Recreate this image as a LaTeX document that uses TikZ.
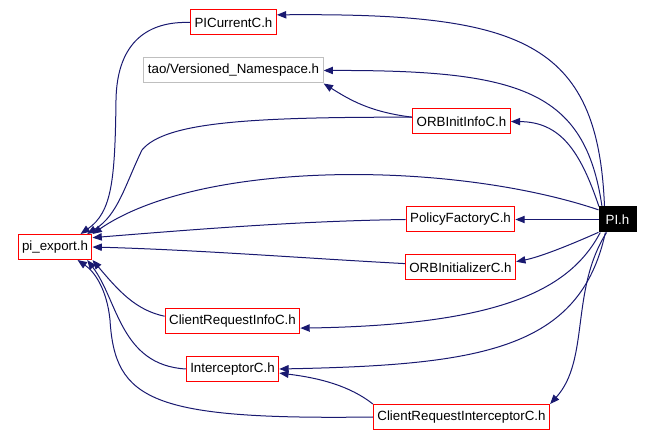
\documentclass[tikz,border=0pt]{standalone}
\usepackage{fontspec}
\setmainfont{Liberation Sans}
\usetikzlibrary{arrows.meta,backgrounds}
\definecolor{navyedge}{RGB}{25, 25, 112}
\definecolor{boxred}{RGB}{255, 0, 0}
\definecolor{boxgray}{RGB}{191, 191, 191}
\tikzset{
  hfile/.style={draw=boxred, line width=0.75pt, fill=white, inner xsep=3pt, inner ysep=0pt,
                minimum height=18.75pt, font=\fontsize{10}{12}\selectfont},
  extfile/.style={hfile, draw=boxgray},
  topfile/.style={hfile, draw=black, fill=black, text=white, minimum width=27.75pt},
  dep/.style={navyedge, line width=0.75pt, -{Triangle[length=7pt,width=5.5pt]}}
}

\begin{document}
\begin{tikzpicture}[x=0.75pt, y=-0.75pt]
            \useasboundingbox (0,0) rectangle (654,438);
            % headers
            \node[topfile] (pi)    at (617.5,219.5) {PI.h};
            \node[hfile]   (picur) at (233.5, 22.5) {PICurrentC.h};
            \node[extfile] (vn)    at (233.5, 70.5) {tao/Versioned\_Namespace.h};
            \node[hfile]   (oii)   at (461.5,121.5) {ORBInitInfoC.h};
            \node[hfile]   (pf)    at (460.5,219.5) {PolicyFactoryC.h};
            \node[hfile]   (ori)   at (460.5,267.5) {ORBInitializerC.h};
            \node[hfile]   (pe)    at ( 55.0,247.0) {pi\_export.h};
            \node[hfile]   (cri)   at (232.5,321.0) {ClientRequestInfoC.h};
            \node[hfile]   (ic)    at (232.5,369.0) {InterceptorC.h};
            \node[hfile]   (cric)  at (461.5,417.0) {ClientRequestInterceptorC.h};
            \begin{pgfonlayer}{background}
            % includes of PI.h
            \draw[dep] (pi.135) .. controls (598,40) and (520,13) .. (picur.10);
            \draw[dep] (pi.140) .. controls (585,90) and (520,70) .. (vn.east);
            \draw[dep] (pi.145) .. controls (580,150) and (560,122) .. (oii.east);
            \draw[dep] (pi.153) .. controls (450,160) and (200,160) .. (pe.north east);
            \draw[dep] (pi.west) -- (pf.east);
            \draw[dep] (pi.214) .. controls (570,245) and (540,257) .. (ori.6);
            \draw[dep] (pi.217) .. controls (570,290) and (500,325) .. (cri.-6);
            \draw[dep] (pi.227) .. controls (580,350) and (480,365) .. (ic.east);
            \draw[dep] (pi.230) .. controls (570,290) and (590,360) .. (cric.north east);
            % includes of the others
            \draw[dep] (oii.175) .. controls (370,112) and (350,100) .. (vn.south east);
            \draw[dep] (picur.west) .. controls (150,21) and (117,40) .. (116,100)
                 .. controls (115,180) and (112,212) .. (pe.27);
            \draw[dep] (oii.175) .. controls (250,117) and (165,122) .. (142,150)
                 .. controls (125,185) and (118,215) .. (pe.22);
            \draw[dep] (pf.west) .. controls (300,221) and (200,229) .. (pe.14);
            \draw[dep] (ori.176) .. controls (300,258) and (200,250) .. (pe.east);
            \draw[dep] (cri.176) .. controls (135,310) and (118,290) .. (pe.south east);
            \draw[dep] (ic.west) .. controls (120,365) and (118,300) .. (pe.-22);
            \draw[dep] (cric.west) .. controls (150,420) and (115,400) .. (110,320)
                 .. controls (107,290) and (95,272) .. (pe.-30);
            \draw[dep] (cric.north west) .. controls (350,386) and (320,378) .. (ic.-5);
            \end{pgfonlayer}
        \end{tikzpicture}
\end{document}
